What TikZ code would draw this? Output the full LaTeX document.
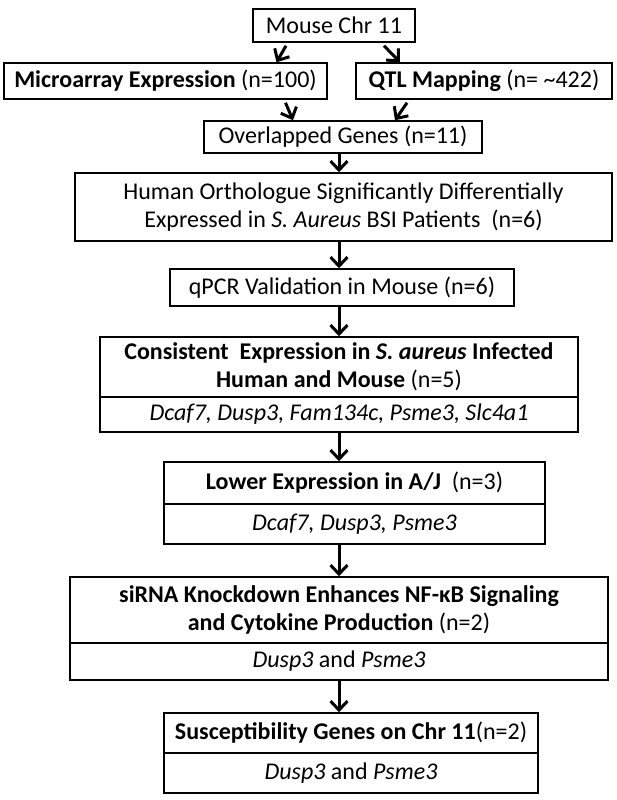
\documentclass[tikz,border=0pt]{standalone}
\usepackage{fontspec}
\setmainfont{Carlito}
\usetikzlibrary{arrows.meta}
\begin{document}
\begin{tikzpicture}[x=1pt,y=-1pt,
  box/.style={draw,line width=1.5pt,inner sep=0pt,align=center,font=\fontsize{24}{28}\selectfont},
  arr/.style={line width=3pt,-{Straight Barb[length=9pt,width=17pt,line width=3pt]}}]
\useasboundingbox (0,0) rectangle (617,800);
\newcommand{\bx}[6]{\node[box,minimum width=#4-#2,minimum height=#5-#3] (#1) at ({(#2+#4)/2},{(#3+#5)/2}) {#6};}
\bx{mouse}{253}{9}{415}{42}{Mouse Chr 11}
\bx{micro}{4}{63}{327}{99}{\textbf{Microarray Expression} (n=100)}
\bx{qtl}{356}{63}{612}{99}{\textbf{QTL Mapping} (n= \textasciitilde422)}
\bx{over}{204}{121}{482}{153}{Overlapped Genes (n=11)}
\bx{human}{75}{173}{612}{241}{Human Orthologue Significantly Differentially\\Expressed in \textit{S. Aureus} BSI Patients~~(n=6)}
\bx{qpcr}{170}{269}{514}{306}{qPCR Validation in Mouse (n=6)}
\bx{cons}{100}{337}{578}{397}{\textbf{Consistent~ Expression in \textit{S. aureus} Infected}\\\textbf{Human and Mouse} (n=5)}
\bx{consb}{100}{397}{578}{432}{\textit{Dcaf7, Dusp3, Fam134c, Psme3, Slc4a1}}
\bx{lower}{164}{462}{545}{504}{\textbf{Lower Expression in A/J}~~(n=3)}
\bx{lowerb}{164}{504}{545}{544}{\textit{Dcaf7, Dusp3, Psme3}}
\bx{sirna}{70}{577}{608}{643}{\textbf{siRNA Knockdown Enhances NF-κB Signaling}\\\textbf{and Cytokine Production} (n=2)}
\bx{sirnab}{70}{643}{608}{680}{\textit{Dusp3} and \textit{Psme3}}
\bx{susc}{164}{713}{538}{753}{\textbf{Susceptibility Genes on Chr 11}(n=2)}
\bx{suscb}{164}{753}{538}{793}{\textit{Dusp3} and \textit{Psme3}}
\draw[arr] ([xshift=-48pt,yshift=-3pt]mouse.south) -- ([xshift=111pt]micro.north);
\draw[arr] ([xshift=50pt,yshift=-3pt]mouse.south) -- ([xshift=-84pt]qtl.north);
\draw[arr] ([xshift=120pt,yshift=-3pt]micro.south) -- ([xshift=-50pt]over.north);
\draw[arr] ([xshift=-77pt,yshift=-3pt]qtl.south) -- ([xshift=52pt]over.north);
\draw[arr] ([xshift=-4pt]over.south) -- ([xshift=-4pt]over.south |- human.north);
\draw[arr] ([xshift=-4pt]over.south |- human.south) -- ([xshift=-4pt]over.south |- qpcr.north);
\draw[arr] (339,306) coordinate (q1) -- (q1 |- cons.north);
\draw[arr] (339,432) coordinate (c1) -- (c1 |- lower.north);
\draw[arr] (339,544) coordinate (l1) -- (l1 |- sirna.north);
\draw[arr] (339,680) coordinate (s1) -- (s1 |- susc.north);
\end{tikzpicture}
\end{document}
